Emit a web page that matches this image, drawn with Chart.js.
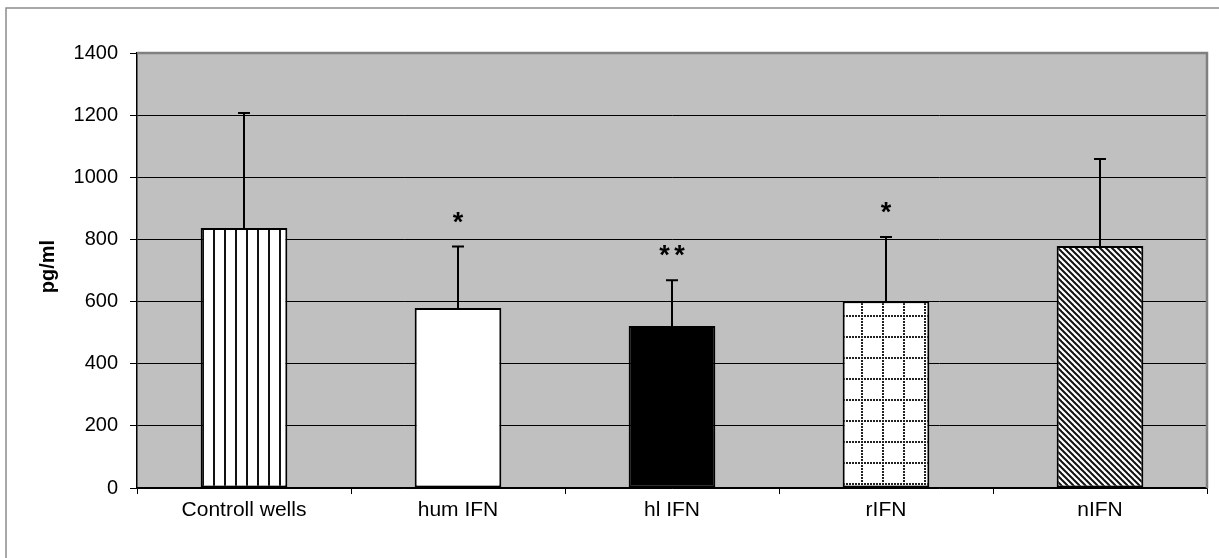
<!DOCTYPE html>
<html>
<head>
<meta charset="utf-8">
<script src="https://cdn.jsdelivr.net/npm/chart.js@4.4.1/dist/chart.umd.min.js"></script>
<style>
  html, body { margin: 0; padding: 0; background: #fff; }
  #wrap { position: relative; width: 1219px; height: 558px; }
</style>
</head>
<body>
<div id="wrap"><canvas id="chart"></canvas></div>
<script>
    'use strict';

    // data
    var categories = ['Controll wells', 'hum IFN', 'hl IFN', 'rIFN', 'nIFN'];
    var means = [837, 579, 521, 601, 779];
    var upperSD = [370, 198, 148, 207, 280];
    var marks = ['', '*', '**', '*', ''];
    var yTicks = [0, 200, 400, 600, 800, 1000, 1200, 1400];
    var yTitle = 'pg/ml';

    function makePattern(w, h, draw) {
        var c = document.createElement('canvas');
        c.width = w;
        c.height = h;
        var g = c.getContext('2d');
        g.fillStyle = '#fff';
        g.fillRect(0, 0, w, h);
        draw(g, w, h);
        return document.createElement('canvas').getContext('2d').createPattern(c, 'repeat');
    }

    var vertical = makePattern(11, 4, function(g) {
        g.fillStyle = '#111';
        g.fillRect(4, 0, 2, 4);
    });

    var dotted = makePattern(21, 21, function(g, w) {
        g.fillStyle = '#222';
        for (var i = 0; i < w; i += 3) {
            g.fillRect(i, 0, 2, 2);
            g.fillRect(0, i, 2, 2);
        }
    });

    var diagonal = makePattern(6, 6, function(g) {
        g.strokeStyle = '#111';
        g.lineWidth = 2;
        for (var k = -6; k <= 6; k += 6) {
            g.beginPath();
            g.moveTo(k - 1, -1);
            g.lineTo(k + 7, 7);
            g.stroke();
        }
    });

    var fills = [vertical, '#ffffff', '#000000', dotted, diagonal];

    var framePlugin = {
        id: 'frame',
        beforeDraw: function(chart) {
            var ctx = chart.ctx, a = chart.chartArea;
            ctx.save();
            ctx.strokeStyle = '#8c8c8c';
            ctx.lineWidth = 1.5;
            ctx.strokeRect(6, 8, 1240, 600);
            ctx.fillStyle = '#c0c0c0';
            ctx.fillRect(a.left, a.top, a.right - a.left, a.bottom - a.top);

            // y axis title
            ctx.translate(48, (a.top + a.bottom) / 2 - 4);
            ctx.rotate(-Math.PI / 2);
            ctx.fillStyle = '#000';
            ctx.font = 'bold 20px "Liberation Sans", Arial, sans-serif';
            ctx.textAlign = 'center';
            ctx.textBaseline = 'middle';
            ctx.fillText(yTitle, 0, 0);
            ctx.restore();
        },
        beforeDatasetsDraw: function(chart) {
            var ctx = chart.ctx, a = chart.chartArea;
            ctx.save();
            ctx.strokeStyle = '#808080';
            ctx.lineWidth = 2.5;
            ctx.beginPath();
            ctx.moveTo(a.left, a.top);
            ctx.lineTo(a.right, a.top);
            ctx.lineTo(a.right, a.bottom);
            ctx.stroke();
            ctx.restore();
        },
        afterDatasetsDraw: function(chart) {
            var ctx = chart.ctx,
                meta = chart.getDatasetMeta(0),
                y = chart.scales.y;
            ctx.save();
            ctx.strokeStyle = '#000';
            ctx.fillStyle = '#000';
            ctx.lineWidth = 2;
            ctx.font = 'bold 27px "Liberation Sans", Arial, sans-serif';
            ctx.textAlign = 'center';
            ctx.textBaseline = 'alphabetic';
            meta.data.forEach(function(bar, i) {
                var top = y.getPixelForValue(means[i] + upperSD[i]),
                    base = y.getPixelForValue(means[i]);
                ctx.beginPath();
                ctx.moveTo(bar.x, base);
                ctx.lineTo(bar.x, top);
                ctx.moveTo(bar.x - 6, top);
                ctx.lineTo(bar.x + 6, top);
                ctx.stroke();
                var n = marks[i].length;
                for (var k = 0; k < n; k++) {
                    ctx.fillText('*', bar.x + (k - (n - 1) / 2) * 15, top - 16);
                }
            });
            ctx.restore();
        }
    };

    var context = document.getElementById('chart').getContext('2d');

    var chart = new Chart(context, {
        type: 'bar',
        data: {
            labels: categories,
            datasets: [{
                data: means,
                backgroundColor: fills,
                borderColor: '#000',
                borderWidth: 2,
                borderSkipped: false,
                barPercentage: 0.405,
                categoryPercentage: 1
            }]
        },
        options: {
            responsive: true,
            maintainAspectRatio: false,
            animation: false,
            layout: { padding: { top: 53, right: 12, left: 0, bottom: 0 } },
            plugins: {
                legend: { display: false },
                tooltip: { enabled: false }
            },
            scales: {
                x: {
                    grid: {
                        offset: true,
                        drawOnChartArea: false,
                        color: '#000',
                        tickLength: 6
                    },
                    border: { color: '#000', width: 1.5 },
                    ticks: {
                        color: '#000',
                        padding: 4,
                        maxRotation: 0,
                        font: { family: '"Liberation Sans", Arial, sans-serif', size: 21 }
                    },
                    afterFit: function(scale) { scale.height = 70; }
                },
                y: {
                    min: 0,
                    max: 1400,
                    afterBuildTicks: function(scale) {
                        scale.ticks = yTicks.map(function(v) { return { value: v }; });
                    },
                    grid: {
                        color: '#000',
                        lineWidth: 1,
                        tickLength: 7
                    },
                    border: { color: '#000', width: 1.5 },
                    ticks: {
                        color: '#000',
                        padding: 12,
                        callback: function(v) { return String(v); },
                        font: { family: '"Liberation Sans", Arial, sans-serif', size: 20 }
                    },
                    afterFit: function(scale) { scale.width = 137; }
                }
            }
        },
        plugins: [framePlugin]
    });
</script>
</body>
</html>
